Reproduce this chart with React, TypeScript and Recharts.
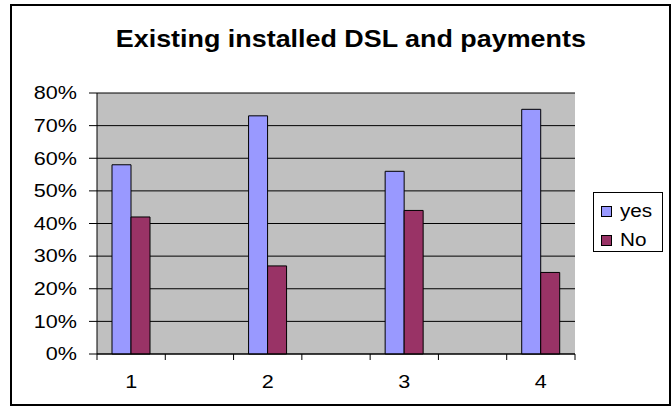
import React from 'react';
import { BarChart, Bar, XAxis, YAxis, CartesianGrid } from 'recharts';

// 7 slots: labelled groups with empty slots between them
const categories = ['1', '', '2', '', '3', '', '4'];
const yesValues = [0.58, null, 0.73, null, 0.56, null, 0.75];
const noValues = [0.42, null, 0.27, null, 0.44, null, 0.25];
const yTicks = [0, 0.1, 0.2, 0.3, 0.4, 0.5, 0.6, 0.7, 0.8];

const data = categories.map((c, i) => ({ cat: c, yes: yesValues[i], no: noValues[i] }));

const W = 672;
const H = 408;
const M = { top: 93, right: 97, bottom: 24, left: 37 };
const FONT = '"Liberation Sans", Arial, sans-serif';
const plotW = W - M.left - 60 - M.right;
const band = plotW / categories.length;

function YTick(props: any) {
  const { x, y, payload } = props;
  return (
    <text
      x={0}
      y={0}
      textAnchor="end"
      dominantBaseline="central"
      fontSize={18}
      fill="#000"
      fontFamily={FONT}
      transform={`translate(${x},${y}) scale(1.2,1)`}
    >
      {Math.round(payload.value * 100) + '%'}
    </text>
  );
}

function XTick(props: any) {
  const { x, y, payload, index } = props;
  return (
    <g>
      <line x1={x - band / 2} x2={x - band / 2} y1={y} y2={y + 6} stroke="#000" />
      {index === categories.length - 1 && (
        <line x1={x + band / 2} x2={x + band / 2} y1={y} y2={y + 6} stroke="#000" />
      )}
      <text
        x={0}
        y={0}
        textAnchor="middle"
        dominantBaseline="central"
        fontSize={18}
        fontFamily={FONT}
        fill="#000"
        transform={`translate(${x},${y + 28}) scale(1.2,1)`}
      >
        {payload.value}
      </text>
    </g>
  );
}

export default function App() {
  return (
    <div style={{ position: 'absolute', left: 0, top: 0, width: W, height: H, background: '#fff', fontFamily: FONT }}>
      <div
        style={{
          position: 'absolute',
          left: 10,
          top: 4,
          width: 657,
          height: 398,
          border: '2px solid #000',
        }}
      />
      <div
        style={{
          position: 'absolute',
          left: 0,
          width: 702,
          top: 24,
          textAlign: 'center',
          fontWeight: 'bold',
          fontSize: 24,
          lineHeight: '30px',
        }}
      >
        <span style={{ display: 'inline-block', transform: 'scaleX(1.12)' }}>Existing installed DSL and payments</span>
      </div>
      <div style={{ position: 'absolute', left: 0, top: 0 }}>
        <BarChart width={W} height={H} data={data} margin={M} barGap={0} barSize={19}>
          <CartesianGrid vertical={false} stroke="#000" fill="#C0C0C0" fillOpacity={1} />
          <XAxis
            dataKey="cat"
            tick={<XTick />}
            tickLine={false}
            tickSize={0}
            tickMargin={0}
            interval={0}
            height={30}
            axisLine={{ stroke: '#000' }}
          />
          <XAxis xAxisId="top" orientation="top" height={0} tick={false} tickLine={false} axisLine={{ stroke: '#808080' }} />
          <YAxis
            domain={[0, 0.8]}
            ticks={yTicks}
            width={60}
            tick={<YTick />}
            tickSize={8}
            tickMargin={12}
            tickLine={{ stroke: '#000' }}
            axisLine={{ stroke: '#000' }}
            interval={0}
          />
          <YAxis
            yAxisId="right"
            orientation="right"
            width={0}
            tick={false}
            tickLine={false}
            axisLine={{ stroke: '#808080' }}
          />
          <Bar dataKey="yes" fill="#9999FF" stroke="#000" strokeWidth={1} isAnimationActive={false} />
          <Bar dataKey="no" fill="#993366" stroke="#000" strokeWidth={1} isAnimationActive={false} />
        </BarChart>
      </div>
      <div
        style={{
          position: 'absolute',
          left: 593,
          top: 192,
          width: 68,
          height: 58,
          border: '1px solid #000',
          background: '#fff',
          fontSize: 18,
        }}
      >
        {[
          { label: 'yes', color: '#9999FF' },
          { label: 'No', color: '#993366' },
        ].map((item, i) => (
          <div key={item.label} style={{ position: 'absolute', left: 7, top: 8 + i * 29, height: 20, display: 'flex', alignItems: 'center' }}>
            <span style={{ display: 'inline-block', width: 9, height: 9, border: '1px solid #000', background: item.color }} />
            <span style={{ marginLeft: 8, display: 'inline-block', transform: 'scaleX(1.15)', transformOrigin: 'left center', lineHeight: '20px' }}>
              {item.label}
            </span>
          </div>
        ))}
      </div>
    </div>
  );
}
